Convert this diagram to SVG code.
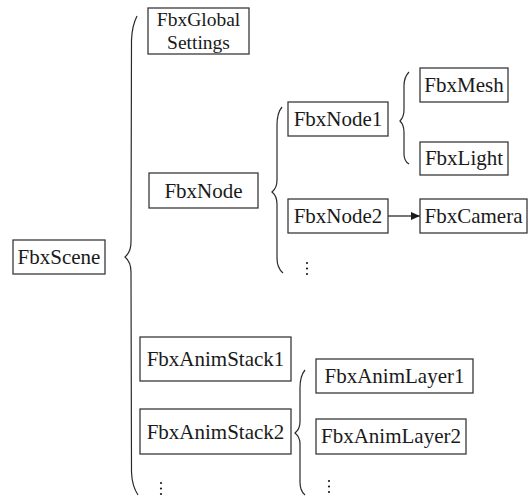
<svg xmlns="http://www.w3.org/2000/svg" width="529" height="496" viewBox="0 0 529 496">
  <style>
    .box { fill: #ffffff; stroke: #3a3a3a; stroke-width: 1.3; }
    .label { font-family: "Liberation Serif", "Times New Roman", Times, serif; font-size: 21px; fill: #1a1a1a; text-anchor: middle; }
    .label.two { font-size: 19.5px; }
    .brace { fill: none; stroke: #2a2a2a; stroke-width: 1.2; }
    .edge { fill: none; stroke: #1a1a1a; stroke-width: 1.2; }
    .dots { fill: #1a1a1a; }
  </style>
  <defs>
    <marker id="arrow" markerWidth="10" markerHeight="10" refX="9" refY="5" orient="auto" markerUnits="userSpaceOnUse">
      <path d="M0,1 L9,5 L0,9 Z" fill="#1a1a1a"/>
    </marker>
  </defs>
  <rect width="529" height="496" fill="#ffffff"/>

  <!-- braces and arrow -->
  <g id="connectors">
    <path class="brace" d="M137,16 Q132,26 131.5,40 L131,242 Q131,252 125,257 Q131,262 131,272 L131.5,472 Q132,486 138,495"/>
    <path class="brace" d="M282,107 Q277,113 277,125 L277,180 Q277,188 272,192 Q277,196 277,204 L277,258 Q277,268 283,273"/>
    <path class="brace" d="M409,72 Q404,77 404,86 L404,110 Q404,117 400,121 Q404,125 404,132 L404,154 Q404,161 409,164"/>
    <path class="brace" d="M305,370 Q300,376 300,388 L300,422 Q300,429 295,433 Q300,437 300,444 L300,482 Q300,491 305,495"/>
    <line class="edge" x1="388" y1="216" x2="420" y2="216" marker-end="url(#arrow)"/>
  </g>

  <g id="fbxscene">
    <rect class="box" x="13" y="240" width="92" height="34"/>
    <text class="label" x="59" y="264">FbxScene</text>
  </g>
  <g id="fbxglobalsettings">
    <rect class="box" x="148" y="8" width="101" height="46"/>
    <text class="label two" x="198.5" y="26">FbxGlobal</text>
    <text class="label two" x="198.5" y="48.5">Settings</text>
  </g>
  <g id="fbxnode">
    <rect class="box" x="149" y="173" width="109" height="35"/>
    <text class="label" x="203.5" y="198">FbxNode</text>
  </g>
  <g id="fbxnode1">
    <rect class="box" x="288" y="102" width="100" height="34"/>
    <text class="label" x="338" y="126">FbxNode1</text>
  </g>
  <g id="fbxmesh">
    <rect class="box" x="420" y="68" width="88" height="34"/>
    <text class="label" x="464" y="92">FbxMesh</text>
  </g>
  <g id="fbxlight">
    <rect class="box" x="420" y="142" width="88" height="33"/>
    <text class="label" x="464" y="165">FbxLight</text>
  </g>
  <g id="fbxnode2">
    <rect class="box" x="288" y="199" width="100" height="34"/>
    <text class="label" x="338" y="223">FbxNode2</text>
  </g>
  <g id="fbxcamera">
    <rect class="box" x="420" y="199" width="107" height="34"/>
    <text class="label" x="473.5" y="223">FbxCamera</text>
  </g>
  <g id="node-more">
    <circle class="dots" cx="307" cy="263" r="1.1"/>
    <circle class="dots" cx="307" cy="268.5" r="1.1"/>
    <circle class="dots" cx="307" cy="274" r="1.1"/>
  </g>
  <g id="fbxanimstack1">
    <rect class="box" x="140" y="337" width="151" height="44"/>
    <text class="label" x="215.5" y="366">FbxAnimStack1</text>
  </g>
  <g id="fbxanimstack2">
    <rect class="box" x="140" y="409" width="151" height="45"/>
    <text class="label" x="215.5" y="439">FbxAnimStack2</text>
  </g>
  <g id="stack-more">
    <circle class="dots" cx="161" cy="483" r="1.1"/>
    <circle class="dots" cx="161" cy="488.5" r="1.1"/>
    <circle class="dots" cx="161" cy="494" r="1.1"/>
  </g>
  <g id="fbxanimlayer1">
    <rect class="box" x="316" y="359" width="157" height="34"/>
    <text class="label" x="394.5" y="383">FbxAnimLayer1</text>
  </g>
  <g id="fbxanimlayer2">
    <rect class="box" x="316" y="419" width="150" height="35"/>
    <text class="label" x="391" y="443">FbxAnimLayer2</text>
  </g>
  <g id="layer-more">
    <circle class="dots" cx="329" cy="481" r="1.1"/>
    <circle class="dots" cx="329" cy="486.5" r="1.1"/>
    <circle class="dots" cx="329" cy="492" r="1.1"/>
  </g>
</svg>
